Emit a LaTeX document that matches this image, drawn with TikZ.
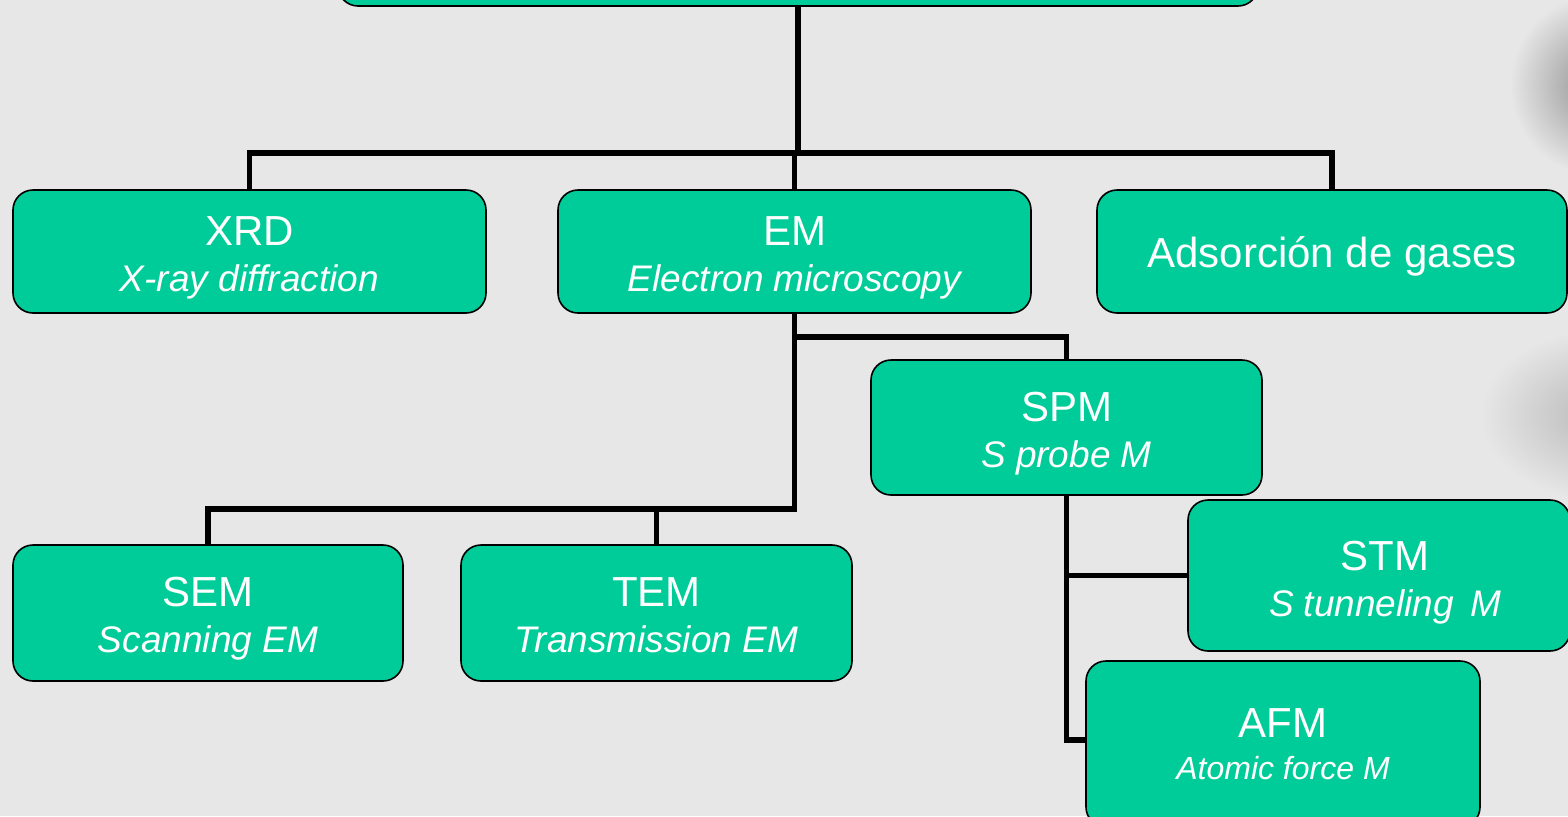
\documentclass[tikz,border=0pt]{standalone}
\usepackage{fontspec}
\setmainfont{Liberation Sans}
\definecolor{boxgreen}{RGB}{0,204,153}
\definecolor{bgcol}{RGB}{231,231,231}
\tikzset{
  box/.style={draw=black, line width=0.8pt, fill=boxgreen, rounded corners=10pt, inner sep=0pt},
  txt/.style={inner sep=0pt, align=center, text=white, font=\fontsize{21}{23}\selectfont},
  conn/.style={draw=black, line width=2.6pt, line join=miter},
}
\newcommand{\mainl}[1]{{\fontsize{21}{23}\selectfont #1}}
\newcommand{\subl}[1]{{\fontsize{18.5}{23}\selectfont\itshape #1}}
\begin{document}
\begin{tikzpicture}[x=0.5pt,y=-0.5pt]
\useasboundingbox (0,0) rectangle (1568,816);
\clip (0,0) rectangle (1568,816);
\fill[bgcol] (0,0) rectangle (1568,816);
% soft shadows at right edge
\shade[inner color=gray!85, outer color=bgcol] (1595,85) ellipse [x radius=85, y radius=90];
\shade[inner color=gray!55, outer color=bgcol] (1600,415) ellipse [x radius=120, y radius=85];

% boxes
\node[box, minimum width=460pt, minimum height=33pt] (top) at (798,-27) {};
\node[box, minimum width=236.5pt, minimum height=61.5pt] (xrd) at (249.5,251.5) {};
\node[box, minimum width=236.5pt, minimum height=61.5pt] (em) at (794.5,251.5) {};
\node[box, minimum width=235pt, minimum height=61.5pt] (adso) at (1332,251.5) {};
\node[box, minimum width=195.5pt, minimum height=67.5pt] (spm) at (1066.5,427.5) {};
\node[box, minimum width=195pt, minimum height=68pt] (sem) at (208,613) {};
\node[box, minimum width=195.5pt, minimum height=68pt] (tem) at (656.5,613) {};
\node[box, minimum width=191pt, minimum height=75.5pt] (stm) at (1379,575.5) {};
\node[box, minimum width=197pt, minimum height=83pt] (afm) at (1283,744) {};

% texts
\node[txt] (xrdt) at ([yshift=-3pt]xrd.center) {\mainl{XRD}\\\subl{X-ray diffraction}};
\node[txt] (emt) at ([yshift=-3pt]em.center) {\mainl{EM}\\\subl{Electron microscopy}};
\node[txt] (adsot) at ([yshift=-2.5pt]adso.center) {\mainl{Adsorción de gases}};
\node[txt] (spmt) at ([yshift=-3pt]spm.center) {\mainl{SPM}\\\subl{S probe M}};
\node[txt] (semt) at ([yshift=-3pt]sem.center) {\mainl{SEM}\\\subl{Scanning EM}};
\node[txt] (temt) at ([yshift=-3pt]tem.center) {\mainl{TEM}\\\subl{Transmission EM\vphantom{g}}};
\node[txt] (stmt) at ([xshift=3pt,yshift=-3.5pt]stm.center) {\mainl{STM}\\\subl{S tunneling\hspace{8pt}M}};
\node[txt, font=\fontsize{21}{21}\selectfont] (afmt) at (afm.center) {\mainl{AFM}\\{\fontsize{16}{21}\selectfont\itshape Atomic force M}};

% connectors
\coordinate (j1) at (799,153);
\draw[conn] (top.south) -- (top.south |- j1);
\draw[conn] (xrd.north) -- (xrd.north |- j1) -- (adso.north |- j1) -- (adso.north);
\draw[conn] (em.north) -- (em.north |- j1);

\coordinate (j2) at (794.5,509);
\coordinate (j3) at (794.5,337);
\draw[conn] (em.south) -- (j2) -- (sem.north |- j2) -- (sem.north);
\draw[conn] (tem.north) -- (tem.north |- j2);
\draw[conn] (j3) -- (spm.north |- j3) -- (spm.north);

\coordinate (j4) at (1066.5,740);
\draw[conn] (spm.south) -- (j4) -- (afm.west |- j4);
\draw[conn] (spm.south |- stm.west) -- (stm.west);
\end{tikzpicture}
\end{document}
